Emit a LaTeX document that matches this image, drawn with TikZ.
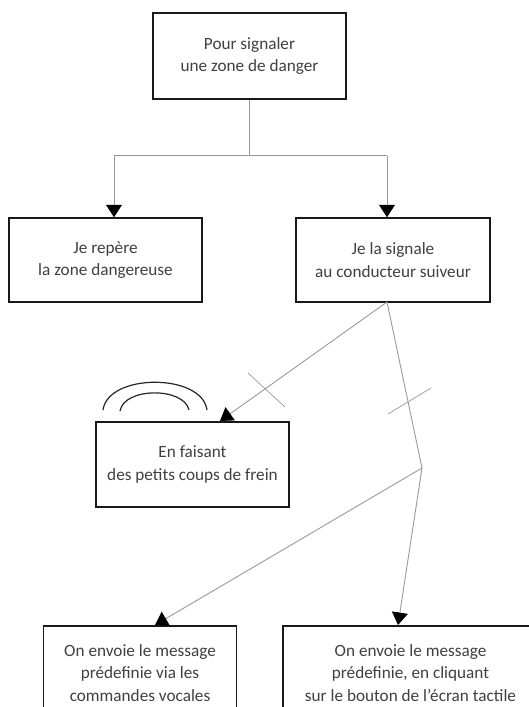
\documentclass[tikz,border=0pt]{standalone}
\usepackage{fontspec}
\setmainfont{Carlito}
\usetikzlibrary{arrows.meta}
\tikzset{
  box/.style={draw=black!90,line width=1.5pt,fill=white,align=center,inner sep=0pt,font=\fontsize{17.2pt}{22.5pt}\selectfont,text=black!75},
  conn/.style={draw=black!40,line width=0.9pt},
  arr/.style={conn,-{Triangle[length=12.5pt,width=16pt,fill=black,color=black]}},
  arc/.style={draw=black!85,line width=1.2pt}
}
\begin{document}
\begin{tikzpicture}[x=1pt,y=-1pt]
\useasboundingbox (0,0) rectangle (528,707);
\node[box,minimum width=193pt,minimum height=86pt] (top) at (249.5,56) {Pour signaler\\une zone de danger};
\node[box,minimum width=193pt,minimum height=84pt] (rep) at (105.5,260) {Je repère\\la zone dangereuse};
\node[box,minimum width=194pt,minimum height=84pt] (sig) at (393,260) {Je la signale\\au conducteur suiveur};
\node[box,minimum width=193pt,minimum height=85pt] (frein) at (192.5,464.5) {En faisant\\des petits coups de frein};
\node[box,minimum width=193pt,minimum height=94pt] (voc) at (140,673) {On envoie le message\\prédefinie via les\\commandes vocales};
\node[box,minimum width=255pt,minimum height=94pt] (tac) at (410.5,673) {On envoie le message\\prédefinie, en cliquant\\sur le bouton de l’écran tactile};
\coordinate (split) at (249,155.7);
\coordinate (sl) at (114,155.7);
\coordinate (sr) at (387,155.7);
\coordinate (knee) at (422,468);
\coordinate (t1a) at (248,373);\coordinate (t1b) at (285,407);
\coordinate (t2a) at (388,414);\coordinate (t2b) at (431,388);
\coordinate (sigout) at (387,302);
\coordinate (fa) at (220,421);
\coordinate (va) at (155,625);
\coordinate (ta) at (398,625);
\draw[conn] (top.south -| split) -- (split);
\draw[conn] (sl) -- (sr);
\draw[arr] (sl) -- (rep.north -| sl);
\draw[arr] (sr) -- (sig.north -| sr);
\draw[arr] (sigout) -- (fa);
\draw[conn] (sigout) -- (knee);
\draw[arr] (knee) -- (va);
\draw[arr] (knee) -- (ta);
\draw[conn,line width=0.7pt] (t1a) -- (t1b);
\draw[conn,line width=0.7pt] (t2a) -- (t2b);
\draw[arc] (103,410) .. controls (108,373) and (202,373) .. (207,410);
\draw[arc] (120,411) .. controls (124,387) and (184,387) .. (189,410);
\end{tikzpicture}
\end{document}
